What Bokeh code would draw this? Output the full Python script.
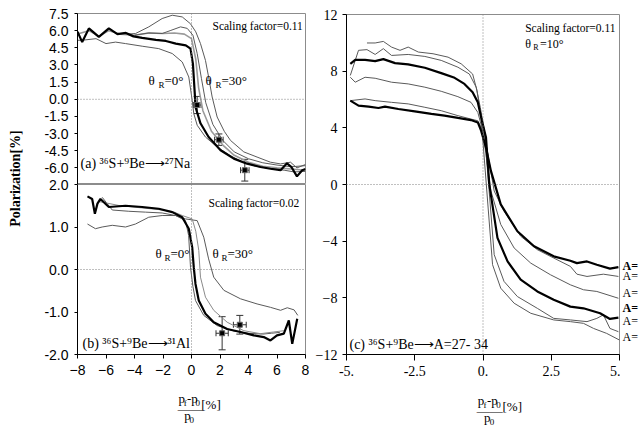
from math import pi
from bokeh.plotting import figure
from bokeh.layouts import row, column
from bokeh.models import (Range1d, FixedTicker, NumeralTickFormatter, Span, Label,
                          Whisker, TeeHead, ColumnDataSource)
from bokeh.embed import file_html
from bokeh.resources import INLINE

# ---------------- data ----------------
# Panel (a): 36S + 9Be -> 27Na, scaling factor 0.11
a_black_x = [-8.0, -7.67, -7.2, -6.5, -5.8, -5.2, -4.6, -4.07, -3.46, -2.5, -1.8, -1.1, -0.4, -0.07,
             0.1, 0.23, 0.28, 0.63, 1.2, 2.04, 2.97, 3.9, 4.84, 5.54, 6.25, 6.7, 7.0, 7.4, 7.77, 8.0]
a_black_y = [5.9, 5.0, 6.2, 5.45, 6.2, 5.7, 5.8, 5.5, 5.37, 5.2, 5.1, 4.87, 4.72, 4.43,
             3.1, 0.5, -0.67, -2.1, -3.3, -4.46, -5.19, -5.63, -5.92, -6.07, -6.2, -5.6, -5.9, -6.74, -6.2, -6.1]
a_low_x = [-8.0, -7.67, -6.7, -6.0, -5.33, -4.63, -3.46, -2.3, -1.35, -0.65, -0.19, 0.05, 0.16, 0.4,
           0.98, 1.8, 2.7, 3.5, 4.5, 5.5, 6.5, 7.2, 8.0]
a_low_y = [5.16, 5.16, 5.3, 4.87, 5.0, 4.87, 4.64, 4.43, 4.0, 3.26, 1.95, -0.09, -1.25, -2.27,
           -3.3, -4.17, -4.9, -5.45, -5.85, -6.05, -6.2, -6.35, -6.3]
a_gray_x = [-8.0, -7.2, -6.5, -5.8, -5.0, -4.0, -3.0, -2.0, -1.2, -0.5, 0.0, 0.3, 0.5, 0.8, 1.4,
            2.2, 3.0, 4.0, 5.0, 6.0, 7.0, 8.0]
a_gray_y = [5.7, 6.0, 5.5, 6.0, 5.7, 5.6, 5.8, 5.75, 5.8, 5.7, 5.3, 3.5, 1.0, -1.0, -2.8,
            -4.0, -4.9, -5.5, -5.85, -6.0, -6.1, -6.2]
a_mid_x = [-4.0, -3.0, -2.06, -1.5, -0.77, -0.3, 0.1, 0.4, 0.7, 1.0, 1.5, 2.2, 3.0, 4.0, 5.0, 6.0, 7.0, 8.0]
a_mid_y = [5.6, 5.8, 5.75, 6.0, 6.33, 6.2, 5.6, 4.0, 1.8, -0.3, -2.2, -3.6, -4.6, -5.2, -5.55, -5.75, -5.9, -5.8]
a_30_x = [-4.5, -3.93, -3.0, -2.06, -1.35, -0.65, -0.07, 0.3, 0.63, 0.98, 1.2, 1.45, 1.8, 2.3, 2.74,
          3.67, 4.6, 5.54, 6.25, 6.95, 7.4, 8.0]
a_30_y = [5.7, 5.75, 6.33, 7.06, 7.35, 7.2, 6.6, 5.9, 4.87, 3.4, 1.95, 0.2, -1.55, -2.8, -3.6,
          -4.6, -5.05, -5.5, -5.65, -5.5, -6.0, -5.7]
a_pts_x = [0.4, 1.92, 3.74]
a_pts_y = [-0.5, -3.53, -6.2]
a_pts_xerr = [0.27, 0.3, 0.3]
a_pts_yerr = [0.75, 0.5, 0.95]

# Panel (b): 36S + 9Be -> 31Al, scaling factor 0.02
b_black_x = [-7.3, -6.97, -6.78, -6.6, -6.39, -5.8, -4.63, -3.46, -2.3, -1.35, -0.65, -0.19, 0.05, 0.16,
             0.28, 0.51, 0.98, 1.56, 2.5, 3.44, 4.37, 5.07, 5.54, 6.0, 6.48, 6.83, 7.07, 7.42]
b_black_y = [1.72, 1.66, 1.31, 1.55, 1.66, 1.47, 1.5, 1.47, 1.43, 1.35, 1.23, 0.96, 0.52, 0.05,
             -0.34, -0.73, -1.04, -1.24, -1.4, -1.47, -1.55, -1.59, -1.67, -1.55, -1.51, -1.2, -1.75, -1.16]
b_30_x = [-7.3, -6.74, -6.27, -5.56, -4.63, -3.93, -3.0, -2.06, -1.12, -0.42, 0.4, 0.86, 1.2, 1.56,
          2.27, 3.44, 4.6, 5.54, 6.25, 6.72, 7.2, 7.46]
b_30_y = [1.07, 0.96, 1.0, 1.04, 1.0, 1.07, 1.23, 1.27, 1.27, 1.19, 1.15, 0.76, 0.25, -0.18,
          -0.49, -0.69, -0.81, -0.89, -0.96, -0.9, -0.95, -1.08]
b_left_x = [-6.27, -5.56, -4.4, -3.23, -2.06, -1.12, -0.42, -0.2, -0.07, 0.1, 0.28, 0.86, 1.8, 3.0,
            4.0, 5.0, 5.6, 6.2]
b_left_y = [1.70, 1.40, 1.37, 1.35, 1.33, 1.27, 1.15, 0.8, 0.05, -0.4, -0.73, -1.08, -1.32, -1.45,
            -1.5, -1.52, -1.5, -1.48]
b_right_x = [-6.5, -5.0, -3.5, -2.0, -1.2, -0.65, 0.05, 0.3, 0.51, 0.63, 0.98, 1.56, 2.5, 3.67,
             4.84, 5.77, 6.48]
b_right_y = [1.6, 1.5, 1.45, 1.4, 1.35, 1.27, 1.19, 0.9, 0.45, -0.18, -0.65, -0.96, -1.24, -1.44,
             -1.51, -1.47, -1.44]
b_pts_x = [2.15, 3.39]
b_pts_y = [-1.5, -1.3]
b_pts_xerr = [0.43, 0.45]
b_pts_yerr = [0.39, 0.22]

# Panel (c): 36S + 9Be -> A = 27-34, theta_R = 10 deg
c1_x = [-4.86, -4.56, -4.19, -3.83, -3.59, -3.1, -2.5, -1.89, -1.41, -0.92, -0.44, -0.19, -0.07, 0.11,
        0.29, 0.65, 1.26, 1.87, 2.59, 3.2, 3.44, 3.81, 4.17, 4.65, 4.96]
c1_y = [5.92, 5.57, 5.5, 5.4, 5.5, 5.33, 5.16, 4.98, 4.86, 4.7, 4.55, 4.38, 3.8, 2.6,
        0.96, -1.4, -3.3, -4.36, -5.07, -5.38, -5.55, -5.43, -5.66, -5.94, -5.83]
c2_x = [-4.86, -4.32, -3.95, -3.35, -2.74, -2.13, -1.53, -0.92, -0.44, -0.19, 0.05, 0.41, 0.77, 1.38,
        1.99, 2.59, 3.2, 3.44, 3.81, 4.41, 4.96]
c2_y = [5.92, 6.04, 5.92, 5.8, 5.69, 5.45, 5.21, 4.86, 4.62, 4.5, 3.56, -0.46, -1.88, -3.65,
        -4.6, -5.19, -5.78, -6.33, -6.49, -6.33, -6.49]
c3_x = [-4.86, -4.68, -4.32, -3.95, -3.35, -2.74, -2.13, -1.53, -0.92, -0.44, -0.19, -0.01, 0.29, 0.65,
        1.14, 1.75, 2.47, 3.2, 3.68, 4.17, 4.96]
c3_y = [7.57, 7.22, 7.57, 7.5, 7.22, 7.1, 6.87, 6.58, 6.2, 5.8, 5.09, 3.8, -0.46, -2.82,
        -4.48, -5.55, -6.37, -7.08, -7.43, -7.55, -8.03]
c4_x = [-4.86, -4.68, -4.32, -3.95, -3.65, -3.22, -2.74, -2.13, -1.53, -1.04, -0.68, -0.38, -0.19, -0.07,
        0.11, 0.23, 0.53, 0.9, 1.38, 1.99, 2.59, 3.2, 3.68, 4.29, 4.65, 4.96]
c4_y = [8.52, 8.8, 8.8, 8.71, 8.85, 8.57, 8.48, 8.24, 7.86, 7.53, 7.1, 6.51, 5.8, 4.74,
        3.32, 0.01, -3.77, -5.43, -6.72, -7.55, -8.14, -8.62, -8.74, -9.09, -9.49, -9.4]
c5_x = [-4.86, -4.56, -4.25, -3.95, -3.65, -3.35, -2.74, -2.13, -1.53, -0.92, -0.5, -0.25, -0.1, 0.05,
        0.41, 0.77, 1.26, 1.99, 2.59, 3.2, 3.81, 4.17, 4.41, 4.65, 4.96]
c5_y = [7.7, 9.47, 9.52, 9.18, 9.59, 9.11, 9.18, 9.04, 8.76, 8.28, 7.8, 6.87, 5.45, 3.8,
        -4.95, -6.84, -7.91, -8.74, -9.45, -9.56, -9.68, -9.45, -9.2, -10.16, -10.39]
c6_x = [-4.25, -3.95, -3.65, -3.35, -3.04, -2.74, -2.37, -1.83, -1.28, -0.8, -0.38, -0.22, -0.07,
        0.35, 0.65, 1.14, 1.75, 2.59, 3.2, 3.68, 4.05, 4.53, 5.0]
c6_y = [9.99, 9.99, 10.1, 9.7, 9.47, 9.7, 9.35, 9.23, 8.99, 8.52, 7.8, 6.63, 4.74,
        -5.66, -7.32, -8.38, -9.09, -9.56, -9.68, -9.8, -10.16, -10.51, -10.98]
c_curve_labels = ["A=", "A=", "A=", "A=", "A=", "A="]

# ticks
a_yticks = [-6.0, -4.5, -3.0, -1.5, 0.0, 1.5, 3.0, 4.5, 6.0, 7.5]
b_yticks = [-2.0, -1.0, 0.0, 1.0, 2.0]
ab_xticks = [-8, -6, -4, -2, 0, 2, 4, 6, 8]
c_xticks = [-5, -2.5, 0, 2.5, 5]
c_xtick_labels = ["-5.", "-2.5", "0.", "2.5", "5."]
c_yticks = [-12, -8, -4, 0, 4, 8, 12]

SERIF = "Liberation Serif"
SANS = "Liberation Sans"
THIN = "#5a5a5a"
FRAME = "#8c8c8c"

# page-pixel geometry of each frame (left, top, right, bottom)
A_FRAME = (77, 13, 305, 184)
B_FRAME = (77, 184, 305, 354)
C_FRAME = (344, 14, 619, 354)
A_XR, A_YR = (-8, 8), (-7.45, 7.5)
B_XR, B_YR = (-8, 8), (-2, 2)
C_XR, C_YR = (-5, 5), (-12, 12)


def conv(frame, xr, yr):
    l, t, r, b = frame
    def f(px, py):
        return (xr[0] + (px - l) * (xr[1] - xr[0]) / (r - l),
                yr[1] - (py - t) * (yr[1] - yr[0]) / (b - t))
    return f


def ident(px, py):
    return px, py


def lab(p, cv, px, py, text, size="13px", font=SERIF, style="normal", align="left", angle=0.0):
    x, y = cv(px, py)
    p.add_layout(Label(x=x, y=y, text=text, text_font=font, text_font_size=size,
                       text_font_style=style, text_align=align, text_baseline="middle",
                       text_color="black", angle=angle))


def theta(p, cv, px, py, rest, size=13, dr=10, dq=16):
    lab(p, cv, px, py, "θ", f"{size}px")
    lab(p, cv, px + dr, py + 4, "R", f"{round(size * 0.7)}px")
    lab(p, cv, px + dq, py, rest, f"{size}px")


def frac_title(p, x0, y0):
    cv = ident
    lab(p, cv, x0, y0, "p", "13px")
    lab(p, cv, x0 + 6.5, y0 + 4, "f", "9px")
    lab(p, cv, x0 + 10.5, y0, "-p", "13px")
    lab(p, cv, x0 + 21, y0 + 4, "0", "9px")
    lab(p, cv, x0 - 1, y0 + 10, "——", "13px")
    lab(p, cv, x0 + 7, y0 + 17, "p", "13px")
    lab(p, cv, x0 + 13.5, y0 + 21, "0", "9px")
    lab(p, cv, x0 + 28, y0 + 6, "[%]", "13px")


def style_axis(ax, font, size, tick_out=4, standoff=5):
    ax.major_label_text_font = font
    ax.major_label_text_font_size = size
    ax.major_label_text_color = "black"
    ax.axis_line_color = "black"
    ax.axis_line_width = 1
    ax.major_tick_line_color = "black"
    ax.minor_tick_line_color = None
    ax.major_tick_in = 0
    ax.major_tick_out = tick_out
    ax.major_label_standoff = standoff


def blank_fig(x0, x1, y0, y1):
    """A figure without axes whose data coordinates are page pixels (for texts outside frames)."""
    p = figure(width=x1 - x0, height=y1 - y0, x_range=Range1d(x0, x1), y_range=Range1d(y1, y0),
               output_backend="svg", toolbar_location=None, min_border=0,
               x_axis_location=None, y_axis_location=None)
    p.outline_line_color = None
    p.xgrid.grid_line_color = None
    p.ygrid.grid_line_color = None
    p.border_fill_color = None
    p.background_fill_color = None
    return p


def base_fig(w, h, xr, yr, borders, **kw):
    l, r, t, b = borders
    p = figure(width=w, height=h, x_range=Range1d(*xr), y_range=Range1d(*yr),
               output_backend="svg", toolbar_location=None,
               min_border_left=l, min_border_right=r, min_border_top=t, min_border_bottom=b, **kw)
    p.xgrid.grid_line_color = None
    p.ygrid.grid_line_color = None
    p.outline_line_color = FRAME
    p.outline_line_width = 1
    p.border_fill_color = None
    p.background_fill_color = None
    for dim in ("width", "height"):
        p.add_layout(Span(location=0, dimension=dim, line_color="#808080",
                          line_dash="1 2", line_width=1))
    return p


def err_points(p, xs, ys, xe, ye):
    src = ColumnDataSource(dict(x=xs, y=ys,
                                yl=[y - e for y, e in zip(ys, ye)], yu=[y + e for y, e in zip(ys, ye)],
                                xl=[x - e for x, e in zip(xs, xe)], xu=[x + e for x, e in zip(xs, xe)]))
    p.add_layout(Whisker(source=src, base="x", lower="yl", upper="yu", dimension="height",
                         line_color="#333333", line_width=1,
                         lower_head=TeeHead(size=7, line_color="#333333", line_width=1),
                         upper_head=TeeHead(size=7, line_color="#333333", line_width=1)))
    p.add_layout(Whisker(source=src, base="y", lower="xl", upper="xu", dimension="width",
                         line_color="#333333", line_width=1,
                         lower_head=TeeHead(size=6, line_color="#333333", line_width=1),
                         upper_head=TeeHead(size=6, line_color="#333333", line_width=1)))
    p.scatter("x", "y", source=src, marker="square", size=5, fill_color="black", line_color="#666666")


# ---------------- y-axis title strip ----------------
flab = blank_fig(0, 32, 0, 429)
lab(flab, ident, 15, 178, "Polarization[%]", "14px", style="bold", align="center", angle=pi / 2)

# ---------------- panel (a) ----------------
fa = base_fig(280, 184, A_XR, A_YR, (45, 7, 13, 0), x_axis_location=None)
fa.line(a_low_x, a_low_y, line_color=THIN, line_width=1)
fa.line(a_gray_x, a_gray_y, line_color="#9a9a9a", line_width=1.6)
fa.line(a_mid_x, a_mid_y, line_color=THIN, line_width=1)
fa.line(a_30_x, a_30_y, line_color=THIN, line_width=1)
fa.line(a_black_x, a_black_y, line_color="black", line_width=2.2)
err_points(fa, a_pts_x, a_pts_y, a_pts_xerr, a_pts_yerr)
fa.yaxis.ticker = FixedTicker(ticks=a_yticks)
fa.yaxis.formatter = NumeralTickFormatter(format="0.0")
style_axis(fa.yaxis[0], SANS, "14px", tick_out=3, standoff=6)
cva = conv(A_FRAME, A_XR, A_YR)
lab(fa, cva, 212, 25, "Scaling factor=0.11", "11.5px")
theta(fa, cva, 148, 80, "=0°")
theta(fa, cva, 205, 80, "=30°")
lab(fa, cva, 80, 163, "(a) ³⁶S+⁹Be⟶²⁷Na", "14px")

# ---------------- panel (b) ----------------
fb = base_fig(280, 206, B_XR, B_YR, (45, 7, 6, 30))
fb.margin = (-6, 0, 0, 0)
fb.line(b_30_x, b_30_y, line_color=THIN, line_width=1)
fb.line(b_left_x, b_left_y, line_color=THIN, line_width=1)
fb.line(b_right_x, b_right_y, line_color="#8a8a8a", line_width=1)
fb.line(b_black_x, b_black_y, line_color="black", line_width=2.2)
err_points(fb, b_pts_x, b_pts_y, b_pts_xerr, b_pts_yerr)
fb.yaxis.ticker = FixedTicker(ticks=b_yticks)
fb.yaxis.formatter = NumeralTickFormatter(format="0.0")
fb.xaxis.ticker = FixedTicker(ticks=ab_xticks)
style_axis(fb.yaxis[0], SANS, "14px", tick_out=3, standoff=6)
style_axis(fb.xaxis[0], SANS, "14px", tick_out=4, standoff=6)
cvb = conv(B_FRAME, B_XR, B_YR)
lab(fb, cvb, 208, 202, "Scaling factor=0.02", "11.5px")
theta(fb, cvb, 155, 253, "=0°", dr=9, dq=15)
theta(fb, cvb, 212, 253, "=30°", dr=9, dq=15)
lab(fb, cvb, 82, 343, "(b) ³⁶S+⁹Be⟶³¹Al", "14px")

tb = blank_fig(32, 312, 384, 429)
frac_title(tb, 156, 398)

# ---------------- panel (c) ----------------
fc = base_fig(308, 386, C_XR, C_YR, (32, 1, 14, 32))
for xs, ys, thick in ((c6_x, c6_y, False), (c5_x, c5_y, False), (c3_x, c3_y, False),
                      (c2_x, c2_y, False), (c4_x, c4_y, True), (c1_x, c1_y, True)):
    fc.line(xs, ys, line_color="black" if thick else THIN, line_width=2.2 if thick else 1)
fc.xaxis.ticker = FixedTicker(ticks=c_xticks)
fc.xaxis.major_label_overrides = {t: s for t, s in zip(c_xticks, c_xtick_labels)}
fc.yaxis.ticker = FixedTicker(ticks=c_yticks)
style_axis(fc.yaxis[0], SERIF, "14px", tick_out=4, standoff=5)
style_axis(fc.xaxis[0], SERIF, "14px", tick_out=6, standoff=5)
cvc = conv(C_FRAME, C_XR, C_YR)
lab(fc, cvc, 524, 27, "Scaling factor=0.11", "11.5px")
theta(fc, cvc, 524, 43, "=10°", size=12, dr=8, dq=15)
lab(fc, cvc, 347, 344, "(c) ³⁶S+⁹Be⟶A=27- 34", "14px")

tc = blank_fig(312, 620, 386, 429)
frac_title(tc, 460, 400)

fA = blank_fig(620, 640, 0, 429)
for i, (py, txt) in enumerate(zip([265, 275, 292, 307, 320, 336], c_curve_labels)):
    lab(fA, ident, 622, py, txt, "12px", style="bold" if i in (0, 3) else "normal")

layout = row(flab, column(fa, fb, tb), column(fc, tc), fA)
open("out.html", "w").write(file_html(layout, INLINE))
